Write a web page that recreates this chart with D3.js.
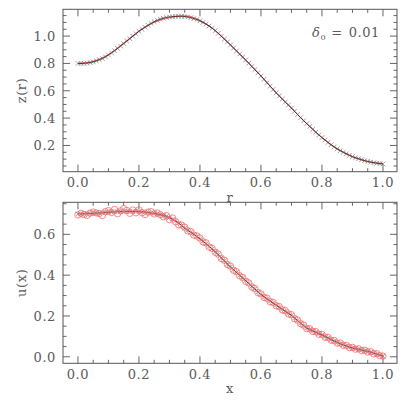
<!DOCTYPE html>
<html>
<head>
<meta charset="utf-8">
<script src="https://cdn.jsdelivr.net/npm/d3@7"></script>
<style>
  body { margin: 0; background: #fff; }
  text { font-family: "DejaVu Serif", "Liberation Serif", serif; fill: #5a5a5a; letter-spacing: 0.6px; }
</style>
</head>
<body>
<script>
// grid of sample points (same for all 101-point series)
let gridX = [0.00,0.01,0.02,0.03,0.04,0.05,0.06,0.07,0.08,0.09,
  0.10,0.11,0.12,0.13,0.14,0.15,0.16,0.17,0.18,0.19,
  0.20,0.21,0.22,0.23,0.24,0.25,0.26,0.27,0.28,0.29,
  0.30,0.31,0.32,0.33,0.34,0.35,0.36,0.37,0.38,0.39,
  0.40,0.41,0.42,0.43,0.44,0.45,0.46,0.47,0.48,0.49,
  0.50,0.51,0.52,0.53,0.54,0.55,0.56,0.57,0.58,0.59,
  0.60,0.61,0.62,0.63,0.64,0.65,0.66,0.67,0.68,0.69,
  0.70,0.71,0.72,0.73,0.74,0.75,0.76,0.77,0.78,0.79,
  0.80,0.81,0.82,0.83,0.84,0.85,0.86,0.87,0.88,0.89,
  0.90,0.91,0.92,0.93,0.94,0.95,0.96,0.97,0.98,0.99,1.00];

// top panel: z(r), crosses + black line
let zCross = [0.800,0.800,0.801,0.803,0.806,0.812,0.819,0.827,0.836,0.848,
  0.862,0.877,0.893,0.910,0.927,0.945,0.963,0.981,0.999,1.017,
  1.035,1.050,1.065,1.079,1.093,1.105,1.115,1.124,1.131,1.136,
  1.140,1.142,1.144,1.145,1.145,1.143,1.140,1.135,1.128,1.121,
  1.112,1.100,1.088,1.074,1.058,1.040,1.020,0.999,0.978,0.957,
  0.935,0.913,0.891,0.869,0.847,0.825,0.802,0.778,0.755,0.731,
  0.708,0.684,0.659,0.634,0.610,0.585,0.562,0.540,0.518,0.496,
  0.474,0.450,0.426,0.403,0.381,0.360,0.339,0.318,0.297,0.277,
  0.258,0.240,0.222,0.205,0.189,0.175,0.162,0.150,0.139,0.128,
  0.118,0.110,0.103,0.096,0.089,0.083,0.078,0.074,0.070,0.067,0.065];

// top panel: red reference curve
let rRed = [0.00,0.05,0.10,0.15,0.20,0.25,0.30,0.35,0.40,0.45,0.50,0.55,0.60,0.65,0.70,0.75,0.80,0.85,0.90,0.95,1.00];
let zRed = [0.800,0.815,0.866,0.950,1.036,1.100,1.135,1.148,1.115,1.040,0.937,0.823,0.710,0.583,0.472,0.360,0.256,0.176,0.118,0.082,0.068];

// bottom panel: u(x), crosses + black line
let uCross = [0.700,0.700,0.701,0.701,0.702,0.703,0.704,0.705,0.706,0.707,
  0.708,0.709,0.710,0.711,0.712,0.712,0.712,0.712,0.712,0.712,
  0.711,0.710,0.709,0.707,0.705,0.703,0.700,0.697,0.693,0.688,
  0.682,0.674,0.665,0.655,0.643,0.630,0.620,0.610,0.600,0.589,
  0.578,0.566,0.554,0.541,0.528,0.515,0.500,0.485,0.470,0.455,
  0.440,0.427,0.413,0.400,0.386,0.373,0.359,0.345,0.332,0.318,
  0.305,0.294,0.284,0.273,0.263,0.253,0.243,0.233,0.223,0.213,
  0.203,0.190,0.177,0.165,0.152,0.141,0.134,0.127,0.120,0.113,
  0.107,0.099,0.092,0.084,0.077,0.070,0.064,0.059,0.053,0.048,
  0.043,0.040,0.036,0.033,0.029,0.026,0.022,0.017,0.012,0.008,0.003];

// bottom panel: red circles
let uCircle = [0.695,0.703,0.697,0.693,0.704,0.709,0.705,0.702,0.692,0.711,
  0.716,0.707,0.722,0.701,0.715,0.726,0.717,0.703,0.719,0.706,
  0.720,0.706,0.697,0.709,0.711,0.700,0.705,0.696,0.686,0.692,
  0.672,0.680,0.662,0.647,0.645,0.635,0.617,0.614,0.596,0.592,
  0.582,0.563,0.558,0.538,0.531,0.512,0.503,0.481,0.473,0.452,
  0.444,0.424,0.417,0.397,0.389,0.370,0.362,0.342,0.335,0.315,
  0.308,0.291,0.287,0.270,0.266,0.250,0.246,0.230,0.226,0.210,
  0.206,0.187,0.180,0.162,0.155,0.138,0.137,0.124,0.123,0.110,
  0.110,0.096,0.095,0.081,0.080,0.067,0.067,0.056,0.056,0.045,
  0.046,0.037,0.039,0.030,0.032,0.023,0.025,0.014,0.015,0.005,0.003];

let xMajor = [0, 0.2, 0.4, 0.6, 0.8, 1.0];
let topMajor = [0.2, 0.4, 0.6, 0.8, 1.0];
let botMajor = [0, 0.2, 0.4, 0.6];

let W = 407, H = 407;
let left = 63, right = 397;

let svg = d3.select('body').append('svg').attr('width', W).attr('height', H);

let x = d3.scaleLinear().domain([-0.049, 1.046]).range([left, right]);

function panel(opts) {
  let y = d3.scaleLinear().domain(opts.ydom).range([opts.bottom, opts.top]);
  let g = svg.append('g');

  // minor ticks every 0.05
  let xMinor = d3.range(0, 1.0001, 0.05);
  let yMinor = d3.range(opts.minorFrom, opts.ydom[1], 0.05);
  let tickColor = '#666';

  xMinor.forEach(function(v) {
    let big = xMajor.some(function(m) { return Math.abs(m - v) < 1e-6; });
    let len = big ? 7 : 3.5;
    g.append('line').attr('x1', x(v)).attr('x2', x(v)).attr('y1', opts.bottom).attr('y2', opts.bottom - len).attr('stroke', tickColor);
    g.append('line').attr('x1', x(v)).attr('x2', x(v)).attr('y1', opts.top).attr('y2', opts.top + len).attr('stroke', tickColor);
  });
  yMinor.forEach(function(v) {
    let big = opts.major.some(function(m) { return Math.abs(m - v) < 1e-6; });
    let len = big ? 7 : 3.5;
    g.append('line').attr('y1', y(v)).attr('y2', y(v)).attr('x1', left).attr('x2', left + len).attr('stroke', tickColor);
    g.append('line').attr('y1', y(v)).attr('y2', y(v)).attr('x1', right).attr('x2', right - len).attr('stroke', tickColor);
  });

  g.append('rect').attr('x', left).attr('y', opts.top).attr('width', right - left).attr('height', opts.bottom - opts.top)
    .attr('fill', 'none').attr('stroke', '#555').attr('stroke-width', 1);

  // tick labels
  g.selectAll('.xl').data(xMajor).enter().append('text')
    .attr('x', function(d) { return x(d); }).attr('y', opts.bottom + 15.5)
    .attr('text-anchor', 'middle').attr('font-size', 13).text(function(d) { return d3.format('.1f')(d); });
  g.selectAll('.yl').data(opts.major).enter().append('text')
    .attr('x', 56).attr('y', function(d) { return y(d) + 5; })
    .attr('text-anchor', 'end').attr('font-size', 13).text(function(d) { return d3.format('.1f')(d); });

  // axis titles
  g.append('text').attr('x', (left + right) / 2).attr('y', opts.bottom + 30).attr('text-anchor', 'middle')
    .attr('font-size', 13).text(opts.xlab);
  g.append('text').attr('transform', 'translate(26,' + (opts.top + opts.bottom) / 2 + ') rotate(-90)')
    .attr('text-anchor', 'middle').attr('font-size', 13).text(opts.ylab);

  return { g: g, y: y };
}

function crosses(g, y, vals) {
  let s = 2.3;
  g.append('g').selectAll('path').data(vals).enter().append('path')
    .attr('d', function(d, i) {
      let cx = x(gridX[i]), cy = y(d);
      return 'M' + (cx - s) + ',' + (cy - s) + 'L' + (cx + s) + ',' + (cy + s) +
             'M' + (cx - s) + ',' + (cy + s) + 'L' + (cx + s) + ',' + (cy - s);
    })
    .attr('stroke', '#888').attr('stroke-width', 0.8).attr('fill', 'none');
}

// top panel
let p1 = panel({ top: 9.3, bottom: 171.7, ydom: [0.008, 1.196], major: topMajor, minorFrom: 0.05, xlab: 'r', ylab: 'z(r)' });
crosses(p1.g, p1.y, zCross);
p1.g.append('path').datum(zRed)
  .attr('d', d3.line().x(function(d, i) { return x(rRed[i]); }).y(function(d) { return p1.y(d); }).curve(d3.curveMonotoneX))
  .attr('fill', 'none').attr('stroke', '#ff5a5a').attr('stroke-width', 1);
p1.g.append('path').datum(zCross)
  .attr('d', d3.line().x(function(d, i) { return x(gridX[i]); }).y(function(d) { return p1.y(d); }))
  .attr('fill', 'none').attr('stroke', '#111').attr('stroke-width', 0.7);

let lab = p1.g.append('text').attr('x', 312).attr('y', 37).attr('font-size', 13);
lab.append('tspan').attr('font-style', 'italic').text('δ');
lab.append('tspan').attr('font-size', 8).attr('dy', 3).text('0');
lab.append('tspan').attr('dy', -3).attr('dx', 5).text('=');
lab.append('tspan').attr('dx', 6).text('0.01');

// bottom panel
let p2 = panel({ top: 202.3, bottom: 363.3, ydom: [-0.032, 0.757], major: botMajor, minorFrom: 0, xlab: 'x', ylab: 'u(x)' });
crosses(p2.g, p2.y, uCross);
p2.g.append('path').datum(uCross)
  .attr('d', d3.line().x(function(d, i) { return x(gridX[i]); }).y(function(d) { return p2.y(d); }))
  .attr('fill', 'none').attr('stroke', '#111').attr('stroke-width', 0.7);
p2.g.append('g').selectAll('circle').data(uCircle).enter().append('circle')
  .attr('cx', function(d, i) { return x(gridX[i]); })
  .attr('cy', function(d) { return p2.y(d); })
  .attr('r', 3.2).attr('fill', 'none').attr('stroke', '#ff6a6a').attr('stroke-width', 0.8);
</script>
</body>
</html>
